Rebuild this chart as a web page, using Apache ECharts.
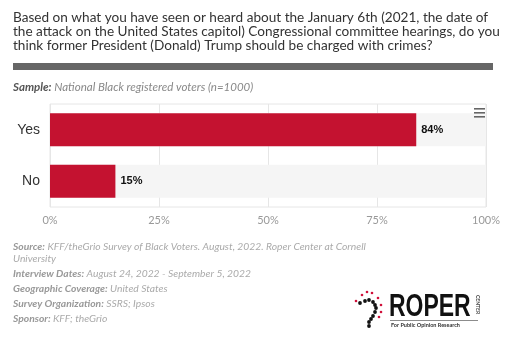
<!DOCTYPE html>
<html><head><meta charset="utf-8">
<script src="https://cdn.jsdelivr.net/npm/echarts@6/dist/echarts.min.js"></script>
<style>html,body{margin:0;padding:0;background:#fff}#c{width:506px;height:340px}</style>
</head><body><div id="c"></div>
<script>
var categories = ['Yes', 'No'];
var values = [84, 15];
var tickLabels = ['0%', '25%', '50%', '75%', '100%'];
var titleLines = [
  'Based on what you have seen or heard about the January 6th (2021, the date of',
  'the attack on the United States capitol) Congressional committee hearings, do you',
  'think former President (Donald) Trump should be charged with crimes?'
];
var footer = [
  ['Source:', ' KFF/theGrio Survey of Black Voters. August, 2022. Roper Center at Cornell'],
  ['', 'University'],
  ['Interview Dates:', ' August 24, 2022 - September 5, 2022'],
  ['Geographic Coverage:', ' United States'],
  ['Survey Organization:', ' SSRS; Ipsos'],
  ['Sponsor:', ' KFF; theGrio']
];
var footerY = [248, 260, 275, 290, 305, 320];

var FONT = 'Lato, sans-serif';
var chart = echarts.init(document.getElementById('c'), null, {renderer: 'canvas'});
var graphics = [];
titleLines.forEach(function (t, i) {
  graphics.push({type: 'text', left: 13, top: 11 + i * 14, z: 100, style: {text: t, font: '13.6px ' + FONT, fill: '#333'}});
});
graphics.push({type: 'rect', z: 100, shape: {x: 13, y: 63, width: 480, height: 7}, style: {fill: '#666'}});
graphics.push({type: 'text', left: 13, top: 81, z: 100, style: {
  text: '{b|Sample:}{n| National Black registered voters (n=1000)}',
  rich: {b: {font: 'italic bold 11.5px ' + FONT, fill: '#555'}, n: {font: 'italic 11.5px ' + FONT, fill: '#888'}}
}});
footer.forEach(function (f, i) {
  graphics.push({type: 'text', left: 13, top: footerY[i] - 6, z: 100, style: {
    text: (f[0] ? '{b|' + f[0] + '}' : '') + '{n|' + f[1] + '}',
    rich: {b: {font: 'italic bold 10.3px ' + FONT, fill: '#999'}, n: {font: 'italic 10.3px ' + FONT, fill: '#aaa'}}
  }});
});
// menu icon
[0, 4, 8].forEach(function (d) {
  graphics.push({type: 'rect', z: 200, shape: {x: 474, y: 108 + d, width: 11, height: 1.6}, style: {fill: '#666'}});
});
// logo
var blackDots = [[360,303],[365,301],[369,300],[373,302],[375,305],[376,308],[375,312],[373,316],[371,319],[369,322],[369,326]];
var redDots = [[356,301],[362,295],[367,292],[372,293],[378,298],[381,305],[381,312],[379,317]];
blackDots.forEach(function (p) { graphics.push({type: 'circle', z: 100, shape: {cx: p[0], cy: p[1], r: 1.9}, style: {fill: '#111'}}); });
redDots.forEach(function (p) { graphics.push({type: 'circle', z: 100, shape: {cx: p[0], cy: p[1], r: 1.3}, style: {fill: '#d0103a'}}); });
graphics.push({type: 'text', x: 389, y: 292, scaleX: 0.74, z: 100, style: {text: 'ROPER', font: 'bold 31px "Liberation Sans", sans-serif', fill: '#111'}});
graphics.push({type: 'text', x: 480, y: 295, rotation: -Math.PI / 2, z: 100, style: {text: 'CENTER', font: 'bold 5px ' + FONT, fill: '#444'}});
graphics.push({type: 'rect', z: 100, shape: {x: 390, y: 320, width: 88, height: 0.7}, style: {fill: '#666'}});
graphics.push({type: 'text', x: 391, y: 322, z: 100, style: {text: 'For Public Opinion Research', font: 'bold 5.5px ' + FONT, fill: '#333'}});

chart.setOption({
  animation: false,
  grid: {left: 50, right: 20, top: 104, bottom: 133, show: true, borderColor: '#e6e6e6', borderWidth: 1, containLabel: false},
  xAxis: {
    type: 'value', min: 0, max: 100, interval: 25,
    axisLabel: {formatter: function (v) { return tickLabels[v / 25]; }, color: '#999', fontSize: 11, fontFamily: FONT, margin: 8},
    splitLine: {lineStyle: {color: '#e6e6e6'}},
    axisLine: {show: false}, axisTick: {show: false}
  },
  yAxis: {
    type: 'category', data: categories, inverse: true,
    axisLabel: {color: '#333', fontSize: 14, fontFamily: '"Liberation Sans", Arial, sans-serif', margin: 10},
    axisLine: {show: false}, axisTick: {show: false}
  },
  series: [{
    type: 'bar', data: values, barWidth: '64%',
    itemStyle: {color: '#c41230'},
    showBackground: true, backgroundStyle: {color: '#f5f5f5'},
    label: {show: true, position: 'right', formatter: '{c}%', color: '#111', fontWeight: 'bold', fontSize: 11, fontFamily: '"Liberation Sans", Arial, sans-serif', distance: 5}
  }],
  graphic: graphics
});
</script></body></html>
